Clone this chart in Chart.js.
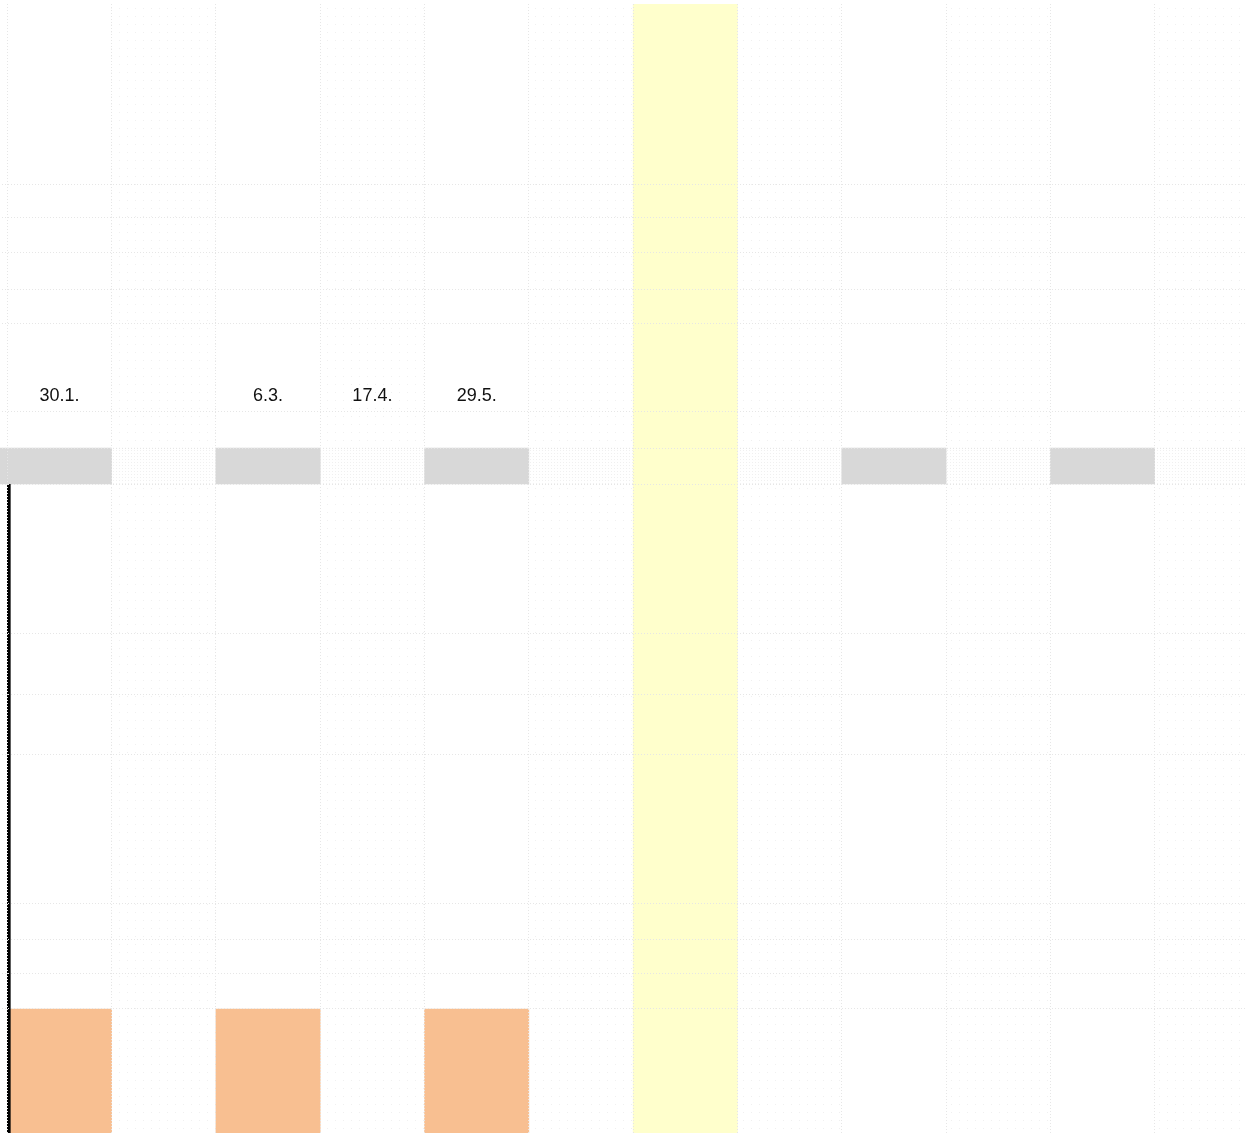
<!DOCTYPE html>
<html>
<head>
<meta charset="utf-8">
<script src="https://cdn.jsdelivr.net/npm/chart.js@4.4.1/dist/chart.umd.min.js"></script>
<style>
    html, body { margin: 0; padding: 0; background: #fff; overflow: hidden; }
    #wrap { position: absolute; left: -97px; top: 0; width: 1356px; height: 1133px; }
</style>
</head>
<body>
<div id="wrap"><canvas id="planChart"></canvas></div>
<script>
// columns -1 .. 11, the first one is cut off at the left edge
var dateLabels = ['', '30.1.', '', '6.3.', '17.4.', '29.5.', '', '', '', '', '', '', ''];
var labelRow = 39.2;

// row boundaries of the grid (top = 0, down = larger)
var rowEdges = [18, 21.3, 24.9, 28.5, 31.9, 40.8, 44.4, 48, 63, 69, 75, 90, 93.6, 96.9, 100.5];
var yMax = 112.9;

var grayBars   = [[44.4, 48], [44.4, 48], null, [44.4, 48], null, [44.4, 48], null, null, null, [44.4, 48], null, [44.4, 48], null];
var orangeBars = [null, [100.5, 112.9], null, [100.5, 112.9], null, [100.5, 112.9], null, null, null, null, null, null, null];
var todayCol   = [null, null, null, null, null, null, null, [0, 112.9], null, null, null, null, null];
var startLine  = [null, [48, 112.9], null, null, null, null, null, null, null, null, null, null, null];
var shadedCols = [null, null, [0, 112.9], null, [0, 112.9], null, [0, 112.9], null, [0, 112.9], null, [0, 112.9], null, [0, 112.9]];
var laneRow    = [[44.4, 48], [44.4, 48], [44.4, 48], [44.4, 48], [44.4, 48], [44.4, 48], [44.4, 48], [44.4, 48], [44.4, 48], [44.4, 48], [44.4, 48], [44.4, 48], [44.4, 48]];

function dotPattern(step, color) {
    var c = document.createElement('canvas');
    c.width = step;
    c.height = step;
    var g = c.getContext('2d');
    g.fillStyle = '#ffffff';
    g.fillRect(0, 0, step, step);
    g.fillStyle = color;
    g.fillRect(0, 0, 1, 1);
    return g.createPattern(c, 'repeat');
}

var dateTextPlugin = {
    id: 'dateText',
    afterDatasetsDraw: function(chart) {
        var ctx = chart.ctx;
        var xs = chart.scales.x;
        var ys = chart.scales.y;
        ctx.save();
        ctx.font = '18px "Liberation Sans", Arial, sans-serif';
        ctx.fillStyle = '#111';
        ctx.textAlign = 'center';
        ctx.textBaseline = 'middle';
        dateLabels.forEach(function(t, i) {
            if (t) ctx.fillText(t, xs.getPixelForValue(i), ys.getPixelForValue(labelRow));
        });
        ctx.restore();
    }
};

new Chart(document.getElementById('planChart'), {
    type: 'bar',
    data: {
        labels: dateLabels,
        datasets: [
            { data: startLine, backgroundColor: 'rgba(0,0,0,0)', borderColor: '#000', borderWidth: { left: 3, right: 0, top: 0, bottom: 0 }, borderSkipped: false, order: 0 },
            { data: grayBars, backgroundColor: '#d8d8d8', order: 1 },
            { data: orangeBars, backgroundColor: '#f8bf91', order: 1 },
            { data: todayCol, backgroundColor: '#ffffcc', order: 2 },
            { data: laneRow, backgroundColor: dotPattern(3, '#f0f0f0'), order: 3 },
            { data: shadedCols, backgroundColor: dotPattern(8, '#f0f0f0'), order: 4 }
        ]
    },
    options: {
        responsive: true,
        maintainAspectRatio: false,
        animation: false,
        layout: { padding: { top: 4, left: 0, right: 0, bottom: 0 } },
        datasets: {
            bar: { grouped: false, categoryPercentage: 1, barPercentage: 1 }
        },
        plugins: {
            legend: { display: false },
            tooltip: { enabled: false }
        },
        scales: {
            x: {
                ticks: { display: false },
                border: { display: false, dash: [1, 2] },
                grid: { z: 1, color: '#e6e6e6', lineWidth: 1, drawTicks: false, offset: true }
            },
            y: {
                reverse: true,
                min: 0,
                max: yMax,
                afterBuildTicks: function(axis) {
                    axis.ticks = rowEdges.map(function(v) { return { value: v }; });
                },
                ticks: { display: false },
                border: { display: false, dash: [1, 2] },
                grid: { z: 1, color: '#e6e6e6', lineWidth: 1, drawTicks: false }
            }
        }
    },
    plugins: [dateTextPlugin]
});
</script>
</body>
</html>
